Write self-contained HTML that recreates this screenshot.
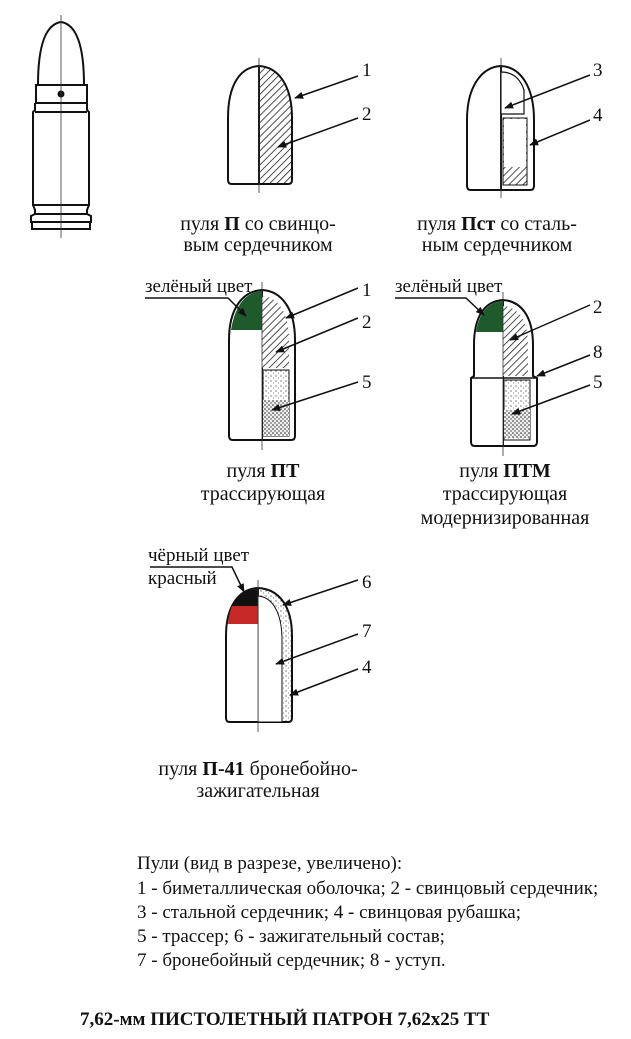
<!DOCTYPE html>
<html><head><meta charset="utf-8"><style>
html,body{margin:0;padding:0;background:#fff}
svg{display:block}
text{font-family:"Liberation Serif","DejaVu Serif",serif;fill:#111}
</style></head><body>
<svg width="631" height="1039" viewBox="0 0 631 1039" xmlns="http://www.w3.org/2000/svg">
<defs>
<pattern id="h" width="5" height="5" patternUnits="userSpaceOnUse" patternTransform="rotate(45)">
<rect width="5" height="5" fill="#fff"/><line x1="0" y1="0" x2="0" y2="5" stroke="#222" stroke-width="1.6"/></pattern>
<pattern id="d" width="5" height="5" patternUnits="userSpaceOnUse">
<rect width="5" height="5" fill="#fff"/><circle cx="1" cy="1" r="0.6" fill="#333"/><circle cx="3.5" cy="3" r="0.5" fill="#555"/></pattern>
<pattern id="dd" width="4" height="4" patternUnits="userSpaceOnUse">
<rect width="4" height="4" fill="#eee"/><circle cx="1" cy="1" r="0.8" fill="#222"/><circle cx="3" cy="3" r="0.7" fill="#333"/></pattern>
<marker id="a" viewBox="0 0 10 10" refX="9" refY="5" markerWidth="9" markerHeight="9" orient="auto-start-reverse" markerUnits="userSpaceOnUse"><path d="M0,1 L10,5 L0,9 z" fill="#111"/></marker>
</defs>
<g stroke="#111" fill="none" stroke-width="2">
<path d="M38,85 C38,40 48,24 61,22 C74,24 84,40 84,85" />
<rect x="36" y="85" width="51" height="18"/>
<path d="M35,103 L35,110 L33,112 L33,205 L89,205 L89,112 L87,110 L87,103"/>
<line x1="35" y1="112" x2="87" y2="112"/>
<path d="M33,205 L35,210 L35,214 L31,216 L31,222 L91,222 L91,216 L87,214 L87,210 L89,205"/>
<rect x="32" y="222" width="58" height="7"/>
<line x1="35" y1="214" x2="87" y2="214"/>
<circle cx="61" cy="94" r="2.5" fill="#111"/>
</g>
<line x1="61" y1="15" x2="61" y2="238" stroke="#333" stroke-width="0.8"/>

<path d="M259,66 L259,184 L288,184 Q292,184 292,180 L292,118 C292,85 278,67 259,66 Z" fill="url(#h)" stroke="#111" stroke-width="2"/>
<path d="M259,66 C240,67 228,85 228,118 L228,180 Q228,184 232,184 L259,184" fill="none" stroke="#111" stroke-width="2"/>
<line x1="259" y1="58" x2="259" y2="193" stroke="#333" stroke-width="0.8"/>

<path d="M501,66 L501,190 L530,190 Q534,190 534,186 L534,120 C534,86 520,67 501,66 Z" fill="#fff" stroke="#111" stroke-width="2"/>
<path d="M503,118 L527,118 L527,185 L503,185 Z" fill="url(#h)" stroke="#111" stroke-width="1"/>
<rect x="504" y="119" width="22" height="48" fill="#fff"/>
<path d="M501,72 L501,114 L524,114 L524,90 C520,78 512,72 501,72Z" fill="#fff" stroke="#111" stroke-width="1.2"/>
<path d="M501,66 C482,67 467,86 467,120 L467,186 Q467,190 471,190 L501,190" fill="none" stroke="#111" stroke-width="2"/>
<line x1="501" y1="58" x2="501" y2="198" stroke="#333" stroke-width="0.8"/>

<path d="M262,290 L262,440 L291,440 Q295,440 295,436 L295,340 C295,308 281,291 262,290 Z" fill="#fff" stroke="#111" stroke-width="2"/>
<path d="M262,296 L262,368 L289,368 L289,340 C289,312 278,297 262,296Z" fill="url(#h)"/>
<rect x="263" y="370" width="26" height="66" fill="url(#d)" stroke="#111" stroke-width="1"/>
<rect x="263" y="400" width="26" height="36" fill="url(#dd)"/>
<path d="M262,290 C243,291 229,308 229,340 L229,436 Q229,440 233,440 L262,440" fill="#fff" stroke="#111" stroke-width="2"/>
<path d="M262,291 C245,292 235,306 231,330 L262,330 Z" fill="#1f5a2c"/>
<line x1="262" y1="282" x2="262" y2="450" stroke="#333" stroke-width="0.8"/>

<path d="M503,300 L503,446 L533,446 Q537,446 537,442 L537,378 L533,376 L533,345 C533,315 520,301 503,300 Z" fill="#fff" stroke="#111" stroke-width="2"/>
<path d="M503,306 L503,376 L528,376 L528,345 C528,318 517,307 503,306Z" fill="url(#h)"/>
<rect x="504" y="380" width="26" height="60" fill="url(#d)" stroke="#111" stroke-width="1"/>
<rect x="504" y="410" width="26" height="28" fill="url(#dd)"/>
<path d="M503,300 C485,301 474,316 474,345 L474,376 L471,378 L471,442 Q471,446 475,446 L503,446" fill="#fff" stroke="#111" stroke-width="2"/>
<line x1="471" y1="378" x2="537" y2="378" stroke="#111" stroke-width="1.5"/>
<path d="M503,301 C487,302 479,314 476,332 L503,332 Z" fill="#1f5a2c"/>
<line x1="503" y1="292" x2="503" y2="456" stroke="#333" stroke-width="0.8"/>

<path d="M258,588 L258,722 L288,722 Q292,722 292,718 L292,636 C292,606 279,589 258,588 Z" fill="url(#d)" stroke="#111" stroke-width="2"/>
<path d="M258,596 L258,722 L282,722 L282,640 C282,612 272,597 258,596Z" fill="#fff" stroke="#111" stroke-width="1"/>
<path d="M258,588 C239,589 226,606 226,636 L226,718 Q226,722 230,722 L258,722" fill="#fff" stroke="#111" stroke-width="2"/>
<path d="M258,589 C244,590 236,596 232,606 L258,606 Z" fill="#111"/>
<path d="M232,606 L258,606 L258,624 L228,624 C229,616 230,611 232,606Z" fill="#c62828"/>
<line x1="258" y1="580" x2="258" y2="732" stroke="#333" stroke-width="0.8"/>

<g stroke="#111" stroke-width="1.5" fill="none" marker-end="url(#a)">
<line x1="358" y1="76" x2="295" y2="98"/>
<line x1="358" y1="118" x2="278" y2="147"/>
<line x1="590" y1="75" x2="505" y2="108"/>
<line x1="590" y1="120" x2="530" y2="145"/>
<line x1="358" y1="288" x2="286" y2="318"/>
<line x1="358" y1="318" x2="276" y2="352"/>
<line x1="358" y1="382" x2="272" y2="410"/>
<line x1="590" y1="305" x2="510" y2="340"/>
<line x1="590" y1="355" x2="537" y2="376"/>
<line x1="590" y1="385" x2="512" y2="414"/>
<line x1="358" y1="580" x2="283" y2="605"/>
<line x1="358" y1="634" x2="276" y2="664"/>
<line x1="358" y1="669" x2="290" y2="695"/>
<path d="M145,298 L228,298 L246,316"/>
<path d="M395,298 L466,298 L484,315"/>
<path d="M150,567 L232,567 L244,592"/>
</g>
<g font-size="19">
<text x="362" y="76">1</text><text x="362" y="120">2</text>
<text x="593" y="76">3</text><text x="593" y="121">4</text>
<text x="362" y="296">1</text><text x="362" y="328">2</text><text x="362" y="388">5</text>
<text x="593" y="313">2</text><text x="593" y="358">8</text><text x="593" y="388">5</text>
<text x="362" y="588">6</text><text x="362" y="637">7</text><text x="362" y="673">4</text>
</g>
<g font-size="19">
<text x="145" y="292">зелёный цвет</text>
<text x="395" y="292">зелёный цвет</text>
<text x="148" y="561">чёрный цвет</text>
<text x="148" y="584">красный</text>
</g>
<g font-size="20" text-anchor="middle">
<text x="258" y="230">пуля <tspan font-weight="bold">П</tspan> со свинцо-</text>
<text x="258" y="251">вым сердечником</text>
<text x="497" y="230">пуля  <tspan font-weight="bold">Пст</tspan> со сталь-</text>
<text x="497" y="251">ным сердечником</text>
<text x="263" y="477">пуля <tspan font-weight="bold">ПТ</tspan></text>
<text x="263" y="500">трассирующая</text>
<text x="505" y="477">пуля  <tspan font-weight="bold">ПТМ</tspan></text>
<text x="505" y="500">трассирующая</text>
<text x="505" y="524">модернизированная</text>
<text x="258" y="775">пуля <tspan font-weight="bold">П-41</tspan> бронебойно-</text>
<text x="258" y="797">зажигательная</text>
</g>
<g font-size="19">
<text x="137" y="869">Пули (вид в разрезе, увеличено):</text>
<text x="137" y="894">1 - биметаллическая оболочка; 2 - свинцовый сердечник;</text>
<text x="137" y="918">3 - стальной сердечник;   4 - свинцовая рубашка;</text>
<text x="137" y="942">5 - трассер;   6 - зажигательный состав;</text>
<text x="137" y="966">7 - бронебойный сердечник;  8 - уступ.</text>
</g>
<text x="80" y="1025" font-size="19" font-weight="bold">7,62-мм ПИСТОЛЕТНЫЙ ПАТРОН  7,62х25 ТТ</text>
</svg>
</body></html>
